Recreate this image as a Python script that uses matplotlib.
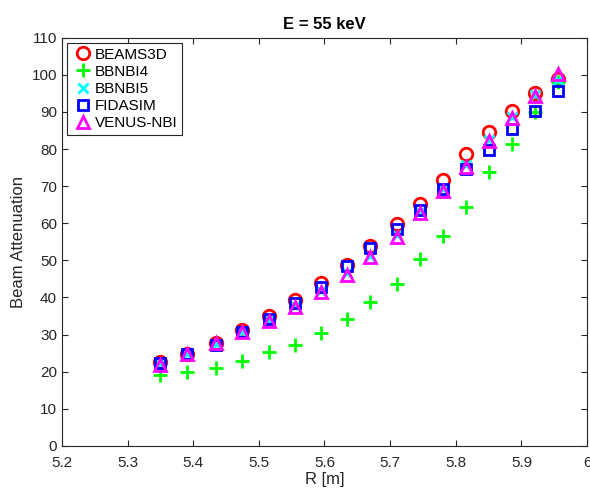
import matplotlib
matplotlib.use("Agg")
import matplotlib.pyplot as plt
from matplotlib.ticker import FuncFormatter

plt.rcParams['font.family'] = ['Liberation Sans', 'DejaVu Sans']

# major radius of each point
R = [5.35, 5.39, 5.435, 5.475, 5.515, 5.555, 5.595, 5.635, 5.67,
     5.71, 5.745, 5.78, 5.815, 5.85, 5.885, 5.92, 5.955]

beams3d = [22.5, 24.8, 27.8, 31.2, 35.0, 39.2, 44.0, 48.7, 54.0,
           59.7, 65.3, 71.8, 78.7, 84.7, 90.3, 95.0, 99.0]
bbnbi4 = [19.0, 19.8, 21.0, 23.0, 25.2, 27.2, 30.3, 34.3, 38.8,
          43.6, 50.5, 56.6, 64.4, 73.7, 81.3, 90.0, 98.0]
bbnbi5 = [22.0, 24.7, 27.5, 30.6, 33.9, 37.8, 41.8, 46.5, 51.2,
          56.8, 63.0, 69.2, 75.6, 82.5, 88.6, 94.5, 98.5]
fidasim = [22.2, 24.7, 27.3, 30.8, 34.2, 38.4, 42.8, 48.4, 53.4,
           58.4, 63.5, 69.3, 74.5, 79.7, 85.4, 90.2, 95.6]
venus = [21.8, 24.8, 27.6, 30.6, 33.7, 37.5, 41.5, 46.0, 50.8,
         56.3, 62.7, 68.8, 75.3, 82.3, 88.5, 94.3, 100.2]

fig = plt.figure(figsize=(5.9, 4.91), dpi=100)
ax = fig.add_axes([0.105, 0.092, 0.89, 0.831])

ax.plot(R, beams3d, 'o', mfc='none', mec='#ff0000', mew=2, ms=9, label='BEAMS3D')
ax.plot(R, bbnbi4, '+', color='#00ff00', mew=2, ms=10, label='BBNBI4')
ax.plot(R, bbnbi5, 'x', color='#00ffff', mew=2, ms=7, label='BBNBI5')
ax.plot(R, fidasim, 's', mfc='none', mec='#0000ff', mew=2, ms=7, label='FIDASIM')
ax.plot(R, venus, '^', mfc='none', mec='#ff00ff', mew=2, ms=9, label='VENUS-NBI')

ax.set_xlim(5.2, 6.0)
ax.set_ylim(0, 110)
ax.set_xticks([5.2 + 0.1 * i for i in range(9)])
ax.set_yticks(range(0, 111, 10))
ax.xaxis.set_major_formatter(FuncFormatter(lambda v, p: f'{v:g}' if abs(v - 6) > 1e-9 else '6'))
ax.tick_params(direction='in', top=True, right=True, labelsize=11, colors='#262626', length=4)
ax.tick_params(axis='x', pad=7)
for s in ax.spines.values():
    s.set_color('#262626')
    s.set_linewidth(0.8)

ax.set_xlabel('R [m]', fontsize=12, color='#262626', labelpad=2)
ax.set_ylabel('Beam Attenuation', fontsize=12, color='#262626')
ax.set_title('E = 55 keV', fontsize=12, fontweight='bold')

leg = ax.legend(loc='upper left', fontsize=11, handletextpad=0.1, borderpad=0.3,
                labelspacing=0.2, fancybox=False, framealpha=1, handlelength=1.4,
                borderaxespad=0.35)
leg.get_frame().set_edgecolor('#262626')
leg.get_frame().set_linewidth(0.8)

fig.savefig('out.png', dpi=100)
